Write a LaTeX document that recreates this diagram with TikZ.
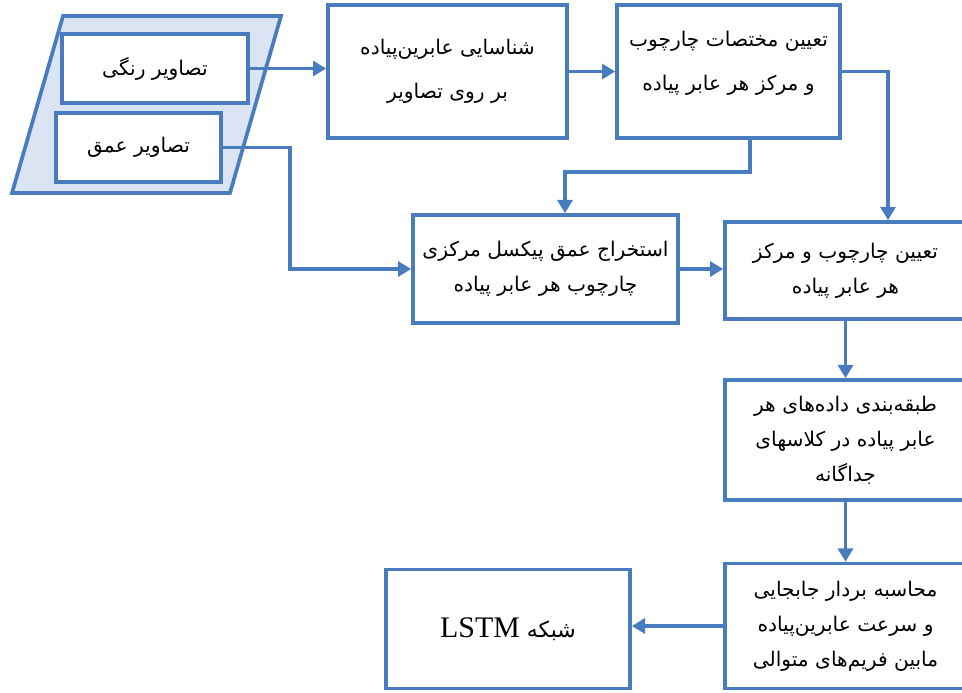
\documentclass[tikz,border=0pt]{standalone}
\usepackage{fontspec}
\usetikzlibrary{arrows.meta}
\newfontfamily\farsifont[Script=Arabic]{DejaVu Sans}
\newfontfamily\latinserif{Liberation Serif}
\TeXXeTstate=1
\definecolor{flowblue}{RGB}{72,124,190}
\definecolor{paneblue}{RGB}{218,228,243}
\newcommand{\fa}[1]{\beginR #1\endR}

\begin{document}
\begin{tikzpicture}[
        x=0.02cm, y=-0.02cm,
        stepbox/.style={
            draw=flowblue,
            line width=2.1pt,
            fill=white,
            align=center,
            inner sep=2pt,
            font=\farsifont\fontsize{11.5}{20}\selectfont
        },
        flow/.style={
            draw=flowblue,
            line width=2.1pt,
            -{Triangle[length=7.5pt,width=8.5pt]}
        }
    ]
    \useasboundingbox (0,0) rectangle (962,692);
    \clip (0,0) rectangle (962,692);

    % input images
    \draw[
        draw=flowblue,
        fill=paneblue,
        line width=2.1pt,
        line join=miter
    ] (63,16) -- (281,16) -- (230,193) -- (12,193) -- cycle;

    \node[
        stepbox,
        minimum width=3.72cm,
        minimum height=1.38cm,
        name=color
    ] at (155,68.5) {\fa{تصاویر رنگی}};

    \node[
        stepbox,
        minimum width=3.3cm,
        minimum height=1.38cm,
        name=depth
    ] at (138.5,147.5) {\fa{تصاویر عمق}};

    % upper row
    \node[
        stepbox,
        minimum width=4.78cm,
        minimum height=2.66cm,
        name=detect
    ] at (447.5,71.5) {\fa{شناسایی عابرین‌پیاده}\\[5pt]\fa{بر روی تصاویر}};

    \node[
        stepbox,
        minimum width=4.46cm,
        minimum height=2.66cm,
        name=frame
    ] at (728.5,71.5) {\fa{تعیین مختصات چارچوب}\\[5pt]\fa{و مرکز هر عابر پیاده}\\[-8pt]\mbox{}};

    % middle row
    \node[
        stepbox,
        minimum width=5.3cm,
        minimum height=2.16cm,
        name=extract
    ] at (545.5,269) {\fa{استخراج عمق پیکسل مرکزی}\\\fa{چارچوب هر عابر پیاده}};

    \node[
        stepbox,
        minimum width=4.82cm,
        minimum height=1.94cm,
        name=bbox
    ] at (845.5,270.5) {\fa{تعیین چارچوب و مرکز}\\\fa{هر عابر پیاده}};

    % right column
    \node[
        stepbox,
        minimum width=4.82cm,
        minimum height=2.4cm,
        name=classify
    ] at (845.5,440) {\fa{طبقه‌بندی داده‌های هر}\\\fa{عابر پیاده در کلاسهای}\\\fa{جداگانه}};

    \node[
        stepbox,
        minimum width=4.82cm,
        minimum height=2.5cm,
        name=motion
    ] at (845.5,626) {\fa{محاسبه بردار جابجایی}\\\fa{و سرعت عابرین‌پیاده}\\\fa{مابین فریم‌های متوالی}};

    \node[
        stepbox,
        minimum width=4.88cm,
        minimum height=2.38cm,
        name=lstm
    ] at (508,629) {\fa{\fontsize{12.5}{20}\selectfont شبکه \beginL{\latinserif\fontsize{17}{20}\selectfont LSTM}\endL}};

    \coordinate (turnA) at (888,71);
    \coordinate (turnB) at (750,172);
    \coordinate (turnC) at (565,172);
    \coordinate (turnD) at (290,200);

    \draw[flow] (color.east) -- (color.east -| detect.west);
    \draw[flow] (detect.east) -- (frame.west);
    \draw[flow] (frame.east) -| (bbox.north -| turnA);
    \draw[flow] (frame.south -| turnB) -- (turnB) -- (turnC) -- (extract.north -| turnC);
    \draw[flow] (depth.east) -| (turnD) |- (extract.west);
    \draw[flow] (extract.east) -- (extract.east -| bbox.west);
    \draw[flow] (bbox.south) -- (classify.north);
    \draw[flow] (classify.south) -- (motion.north);
    \draw[flow] (motion.west) -- (motion.west -| lstm.east);
\end{tikzpicture}
\end{document}
